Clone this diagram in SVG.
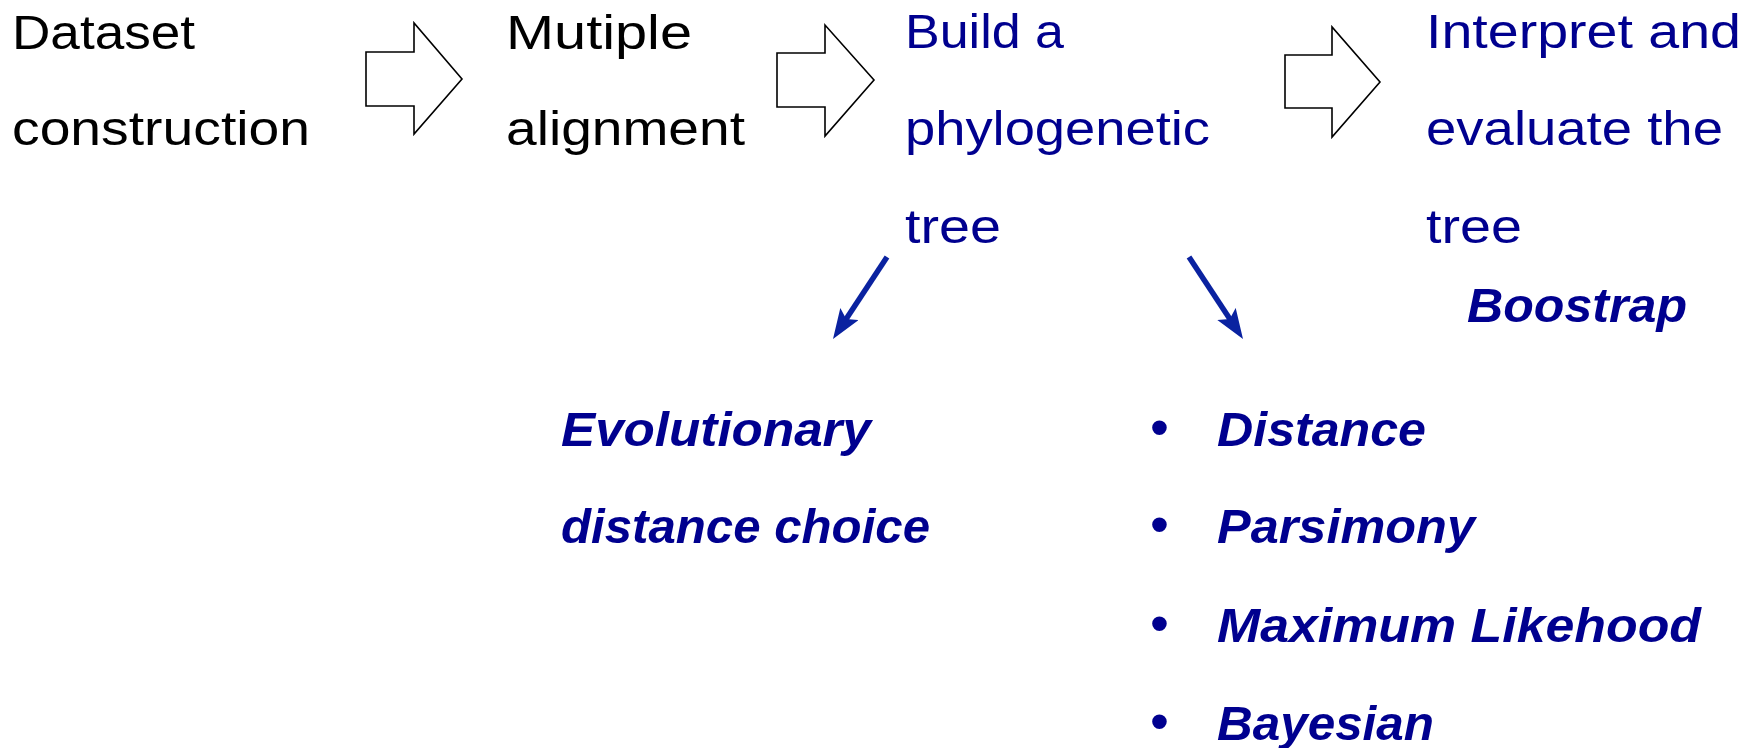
<svg xmlns="http://www.w3.org/2000/svg" width="1761" height="748" viewBox="0 0 1761 748">
<style>
text{font-family:"Liberation Sans",Arial,sans-serif;font-size:48px}
.k{fill:#000}
.b{fill:#00008f}
.bi{fill:#00008f;font-weight:bold;font-style:italic}
.dot{fill:#00008f;font-size:54px}
.blk{fill:#fff;stroke:#000;stroke-width:1.6;stroke-linejoin:miter}
.con{stroke:#0a22a0;stroke-width:5.5;fill:none}
</style>
<defs>
<marker id="ah" markerUnits="userSpaceOnUse" markerWidth="36" markerHeight="26" refX="10" refY="11" orient="auto">
<path d="M0,0 L30,11 L0,22 L6,11 Z" fill="#0a22a0"/>
</marker>
</defs>
<rect width="1761" height="748" fill="#fff"/>
<g id="n-dataset">
<text class="k" x="12" y="49" textLength="183" lengthAdjust="spacingAndGlyphs">Dataset</text>
<text class="k" x="12" y="145" textLength="298" lengthAdjust="spacingAndGlyphs">construction</text>
</g>
<g id="n-alignment">
<text class="k" x="506" y="49" textLength="186" lengthAdjust="spacingAndGlyphs">Mutiple</text>
<text class="k" x="506" y="145" textLength="239" lengthAdjust="spacingAndGlyphs">alignment</text>
</g>
<g id="n-build">
<text class="b" x="905" y="48" textLength="159" lengthAdjust="spacingAndGlyphs">Build a</text>
<text class="b" x="905" y="145" textLength="305" lengthAdjust="spacingAndGlyphs">phylogenetic</text>
<text class="b" x="905" y="243" textLength="96" lengthAdjust="spacingAndGlyphs">tree</text>
</g>
<g id="n-interpret">
<text class="b" x="1426" y="48" textLength="315" lengthAdjust="spacingAndGlyphs">Interpret and</text>
<text class="b" x="1426" y="145" textLength="297" lengthAdjust="spacingAndGlyphs">evaluate the</text>
<text class="b" x="1426" y="243" textLength="96" lengthAdjust="spacingAndGlyphs">tree</text>
</g>
<g id="n-bootstrap">
<text class="bi" x="1467" y="322" textLength="220" lengthAdjust="spacingAndGlyphs">Boostrap</text>
</g>
<g id="n-evolutionary">
<text class="bi" x="561" y="446" textLength="310" lengthAdjust="spacingAndGlyphs">Evolutionary</text>
<text class="bi" x="561" y="543" textLength="369" lengthAdjust="spacingAndGlyphs">distance choice</text>
</g>
<g id="n-methods">
<text class="dot" x="1150" y="446">•</text>
<text class="bi" x="1217" y="446" textLength="209" lengthAdjust="spacingAndGlyphs">Distance</text>
<text class="dot" x="1150" y="543">•</text>
<text class="bi" x="1217" y="543" textLength="258" lengthAdjust="spacingAndGlyphs">Parsimony</text>
<text class="dot" x="1150" y="642">•</text>
<text class="bi" x="1217" y="642" textLength="484" lengthAdjust="spacingAndGlyphs">Maximum Likehood</text>
<text class="dot" x="1150" y="740">•</text>
<text class="bi" x="1217" y="740" textLength="217" lengthAdjust="spacingAndGlyphs">Bayesian</text>
</g>
<g id="connectors">
<path class="blk" d="M366,52 L414,52 L414,23 L462,79 L414,134 L414,106 L366,106 Z"/>
<path class="blk" d="M777,53 L825,53 L825,25 L874,80 L825,136 L825,107 L777,107 Z"/>
<path class="blk" d="M1285,55 L1332,55 L1332,27 L1380,82 L1332,137 L1332,108 L1285,108 Z"/>
<line class="con" x1="887" y1="257" x2="844" y2="322.3" marker-end="url(#ah)"/>
<line class="con" x1="1189" y1="257" x2="1232" y2="322.3" marker-end="url(#ah)"/>
</g>
</svg>
